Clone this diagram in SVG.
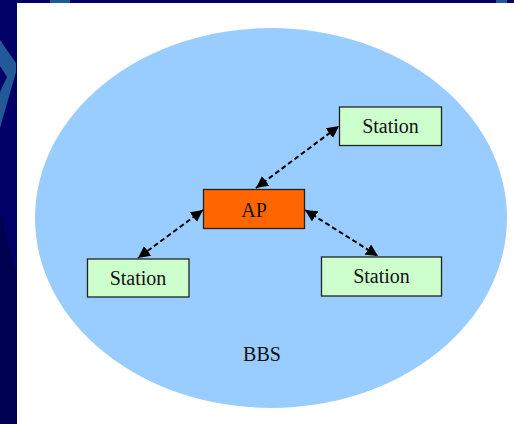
<svg xmlns="http://www.w3.org/2000/svg" width="514" height="424" viewBox="0 0 514 424">
  <defs>
    <style>
      .box { stroke: #222; stroke-width: 1.3; }
      .sta { fill: #ccffcc; }
      .ap { fill: #ff6600; }
      .lbl { font-family: "Liberation Serif", "Times New Roman", serif; font-size: 20px; fill: #111; text-anchor: middle; }
      .link { stroke: #000; stroke-width: 2; stroke-dasharray: 5 3; fill: none; marker-start: url(#ah); marker-end: url(#ah); }
    </style>
    <marker id="ah" viewBox="0 0 10 10" refX="10" refY="5" markerWidth="6" markerHeight="6" orient="auto-start-reverse" markerUnits="strokeWidth">
      <path d="M0,0 L10,5 L0,10 Z" fill="#000"/>
    </marker>
  </defs>

  <g id="background">
    <rect x="0" y="0" width="514" height="424" fill="#000066"/>
    <polygon points="0,212 17,278 17,424 0,424" fill="#000050"/>
    <polygon points="0,40 16,63 16,72 0,128 0,92 7,77 0,66" fill="#225a99"/>
    <rect x="50" y="0" width="20" height="3" fill="#225a99"/>
    <rect x="496" y="0" width="11" height="3" fill="#225a99"/>
    <rect x="17" y="3" width="497" height="421" fill="#ffffff"/>
  </g>

  <g id="bbs">
    <ellipse cx="271" cy="218" rx="236" ry="190" fill="#99ccff"/>
    <text class="lbl" x="262" y="361">BBS</text>
  </g>

  <g id="connectors">
    <line class="link" x1="256" y1="188" x2="339" y2="126"/>
    <line class="link" x1="203" y1="210" x2="138" y2="258"/>
    <line class="link" x1="305" y1="210" x2="378" y2="256"/>
  </g>

  <g id="ap">
    <rect class="box ap" x="203.5" y="189.5" width="101" height="39"/>
    <text class="lbl" x="254" y="216.5">AP</text>
  </g>

  <g id="station-top">
    <rect class="box sta" x="339.5" y="107" width="102" height="38.5"/>
    <text class="lbl" x="390.5" y="133">Station</text>
  </g>

  <g id="station-left">
    <rect class="box sta" x="87.5" y="259" width="101.5" height="38"/>
    <text class="lbl" x="138" y="285">Station</text>
  </g>

  <g id="station-right">
    <rect class="box sta" x="321.5" y="257" width="120" height="39"/>
    <text class="lbl" x="381.5" y="283">Station</text>
  </g>
</svg>
